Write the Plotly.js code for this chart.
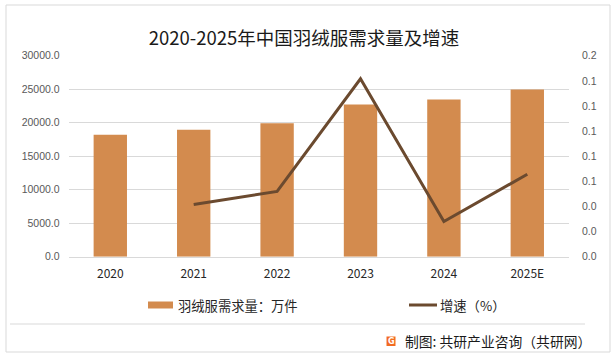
<!DOCTYPE html>
<html>
<head>
<meta charset="utf-8">
<script src="https://cdn.plot.ly/plotly-3.0.1.min.js"></script>
<style>html,body{margin:0;padding:0;background:#fff;}#chart{width:616px;height:358px;}</style>
</head>
<body>
<div id="chart"></div>
<script>
var categories = ['2020', '2021', '2022', '2023', '2024', '2025E'];
var demand = [18200, 18950, 19900, 22700, 23450, 24950];
var growth = [null, 0.052, 0.065, 0.177, 0.035, 0.082];
var leftTickVals = [0, 5000, 10000, 15000, 20000, 25000, 30000];
var rightTickVals = [0, 0.025, 0.05, 0.075, 0.1, 0.125, 0.15, 0.175, 0.2];
var rightTickText = ['0.0', '0.0', '0.0', '0.1', '0.1', '0.1', '0.1', '0.1', '0.2'];
var titleText = '2020-2025年中国羽绒服需求量及增速';
var barName = '羽绒服需求量：万件';
var lineName = '增速（%）';
var sourceText = '制图: 共研产业咨询（共研网）';

var W = 616, H = 358;
function px(x) { return x / W; }
function py(y) { return 1 - y / H; }

var FONT = '"Noto Sans CJK SC", "Noto Sans", sans-serif';
var barColor = '#D38B4E';
var lineColor = '#6B4A2F';

var traces = [
  {
    type: 'bar', x: categories, y: demand, name: barName,
    marker: {color: barColor}, width: 0.4, yaxis: 'y', showlegend: false,
    hoverinfo: 'skip'
  },
  {
    type: 'scatter', mode: 'lines', x: categories, y: growth, name: lineName,
    line: {color: lineColor, width: 3}, yaxis: 'y2', showlegend: false,
    connectgaps: false, hoverinfo: 'skip'
  }
];

var layout = {
  width: W, height: H,
  margin: {l: 0, r: 0, t: 0, b: 0},
  paper_bgcolor: '#ffffff', plot_bgcolor: 'rgba(0,0,0,0)',
  font: {family: FONT, color: '#404040'},
  showlegend: false,
  title: {text: titleText, font: {family: FONT, size: 18.5, color: '#1a1a1a'},
          x: px(304), xanchor: 'center', y: py(39), yanchor: 'middle'},
  xaxis: {
    domain: [px(68.6), px(569)], type: 'category',
    showgrid: false, zeroline: false, showline: true, linecolor: '#d9d9d9', linewidth: 1,
    ticks: '', ticklabelstandoff: 6, tickfont: {family: FONT, size: 12, color: '#262626'},
    fixedrange: true
  },
  yaxis: {
    domain: [py(256.7), py(55.7)], range: [0, 30000],
    tickvals: leftTickVals, tickformat: '.1f',
    showgrid: true, gridcolor: '#d9d9d9', gridwidth: 1, zeroline: false, showline: false,
    ticks: '', ticklabelstandoff: 8,
    tickfont: {family: 'Liberation Sans, Arial, sans-serif', size: 10.5, color: '#595959'},
    fixedrange: true
  },
  yaxis2: {
    overlaying: 'y', side: 'right', range: [0, 0.2],
    tickvals: rightTickVals, ticktext: rightTickText,
    showgrid: false, zeroline: false, showline: false, ticks: '', ticklabelstandoff: 12,
    tickfont: {family: 'Liberation Sans, Arial, sans-serif', size: 10.5, color: '#595959'},
    fixedrange: true
  },
  shapes: [
    {type: 'rect', xref: 'paper', yref: 'paper', x0: px(6), x1: px(610), y0: py(352), y1: py(5),
     line: {color: '#d9d9d9', width: 1}, fillcolor: 'rgba(0,0,0,0)', layer: 'below'},
    {type: 'line', xref: 'paper', yref: 'paper', x0: px(10), x1: px(585), y0: py(324), y1: py(324),
     line: {color: '#d9d9d9', width: 1}},
    {type: 'rect', xref: 'paper', yref: 'paper', x0: px(148), x1: px(173), y0: py(308.5), y1: py(301.5),
     line: {width: 0}, fillcolor: barColor},
    {type: 'line', xref: 'paper', yref: 'paper', x0: px(409), x1: px(437), y0: py(305), y1: py(305),
     line: {color: lineColor, width: 3}},
    {type: 'rect', xref: 'paper', yref: 'paper', x0: px(386.5), x1: px(395.5), y0: py(346), y1: py(336.5),
     line: {width: 0}, fillcolor: '#F26B21'}
  ],
  annotations: [
    {xref: 'paper', yref: 'paper', x: px(176), y: py(305.5), xanchor: 'left', yanchor: 'middle',
     text: barName, showarrow: false, font: {family: FONT, size: 13.3, color: '#262626'}},
    {xref: 'paper', yref: 'paper', x: px(438), y: py(305.5), xanchor: 'left', yanchor: 'middle',
     text: lineName, showarrow: false, font: {family: FONT, size: 13.3, color: '#262626'}},
    {xref: 'paper', yref: 'paper', x: px(391), y: py(341.3), xanchor: 'center', yanchor: 'middle',
     text: '<b>G</b>', showarrow: false, font: {family: 'DejaVu Sans', size: 8, color: '#ffffff'}},
    {xref: 'paper', yref: 'paper', x: px(403), y: py(341), xanchor: 'left', yanchor: 'middle',
     text: sourceText, showarrow: false, font: {family: FONT, size: 13.8, color: '#1a1a1a'}}
  ]
};

Plotly.newPlot('chart', traces, layout, {staticPlot: true, displayModeBar: false});
</script>
</body>
</html>
